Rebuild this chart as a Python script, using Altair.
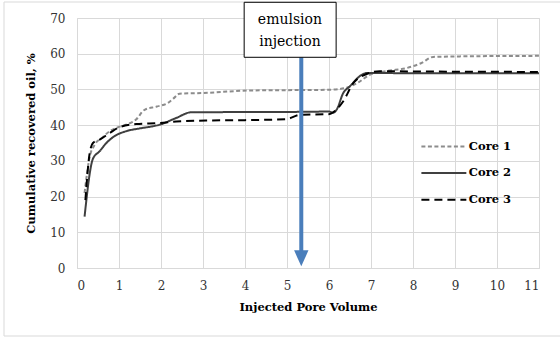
import altair as alt
import pandas as pd

# ---- data ----
core1_x = [0.18, 0.30, 0.42, 0.60, 0.78, 1.00, 1.21, 1.40, 1.61, 1.90, 2.16, 2.30, 2.44, 3.00, 4.10, 5.00, 6.00, 6.40, 6.70, 6.97, 7.40, 7.85, 8.20, 8.48, 9.50, 11.0]
core1_y = [21.0, 31.0, 34.5, 36.5, 38.3, 39.5, 40.3, 41.5, 44.3, 45.2, 46.2, 47.5, 48.8, 49.0, 49.7, 49.8, 49.9, 50.4, 52.0, 54.1, 55.2, 56.0, 57.4, 59.1, 59.3, 59.4]

core2_x = [0.18, 0.38, 0.54, 0.70, 0.89, 1.17, 1.50, 1.81, 1.96, 2.36, 2.72, 3.00, 4.00, 5.00, 6.00, 6.10, 6.18, 6.34, 6.50, 6.78, 6.90, 7.20, 8.00, 11.0]
core2_y = [14.4, 30.6, 32.7, 35.0, 36.9, 38.3, 39.1, 39.7, 40.1, 42.0, 43.6, 43.6, 43.7, 43.7, 43.8, 43.5, 44.3, 49.0, 50.9, 54.1, 54.6, 54.6, 54.5, 54.5]

core3_x = [0.20, 0.30, 0.38, 0.55, 0.78, 1.01, 1.41, 1.96, 2.36, 3.07, 4.00, 4.99, 5.31, 6.02, 6.10, 6.34, 6.58, 6.78, 7.21, 8.40, 11.0]
core3_y = [19.0, 32.0, 35.0, 36.0, 37.8, 39.4, 40.3, 40.6, 41.0, 41.3, 41.4, 41.7, 42.9, 43.1, 43.6, 46.7, 51.8, 53.7, 55.1, 55.0, 54.9]

series_names = ["Core 1", "Core 2", "Core 3"]
x_ticks = list(range(0, 12))
y_ticks = list(range(0, 80, 10))

injection_pv = 5.34
annotation_lines = ["emulsion", "injection"]

# ---- styles ----
colors = ["#8c8c8c", "#404040", "#000000"]
dashes = [[4, 2.5], [1, 0], [8, 5]]
widths = [2, 2, 2.5]
FONT = "DejaVu Serif"

rows = []
for name, xs, ys in zip(series_names, [core1_x, core2_x, core3_x], [core1_y, core2_y, core3_y]):
    for i, (a, b) in enumerate(zip(xs, ys)):
        rows.append({"series": name, "pv": a, "oil": b, "order": i})
df = pd.DataFrame(rows)

xscale = alt.Scale(domain=[0, 11], nice=False, zero=False)
yscale = alt.Scale(domain=[0, 70], nice=False)
cscale = alt.Scale(domain=series_names, range=colors)
dscale = alt.Scale(domain=series_names, range=dashes)
wscale = alt.Scale(domain=series_names, range=widths)

x_axis = alt.Axis(values=x_ticks, title="Injected Pore Volume", ticks=False, labelOverlap=False,
                  domainColor="#d9d9d9", gridColor="#d9d9d9", labelFont=FONT,
                  labelFontSize=12, labelColor="#333333", labelPadding=12,
                  titleFont=FONT, titleFontSize=11.5, titleFontWeight="bold",
                  titleColor="#000000", titlePadding=10)
y_axis = alt.Axis(values=y_ticks, title="Cumulative recovered oil, %", ticks=False, labelOverlap=False,
                  domain=False, gridColor="#d9d9d9", labelFont=FONT,
                  labelFontSize=12, labelColor="#333333", labelPadding=12,
                  titleFont=FONT, titleFontSize=11.5, titleFontWeight="bold",
                  titleColor="#000000", titlePadding=13)


def X(field):
    return alt.X(field, type="quantitative", scale=xscale, axis=x_axis)


def Y(field):
    return alt.Y(field, type="quantitative", scale=yscale, axis=y_axis)


lines = alt.Chart(df).mark_line(interpolate="monotone").encode(
    x=X("pv"), y=Y("oil"),
    color=alt.Color("series:N", scale=cscale, legend=None),
    strokeDash=alt.StrokeDash("series:N", scale=dscale, legend=None),
    strokeWidth=alt.StrokeWidth("series:N", scale=wscale, legend=None),
    order="order:Q",
)

frame = alt.Chart(pd.DataFrame({"a": [0]})).mark_rect(
    fill=None, stroke="#d9d9d9", strokeWidth=1
).encode(x=alt.value(-73), x2=alt.value(490), y=alt.value(-16), y2=alt.value(318))

leg = pd.DataFrame({"series": series_names, "x1": [8.2] * 3, "x2": [9.27] * 3,
                    "ly": [34.0, 26.6, 19.1], "tx": [9.33] * 3})
leg_lines = alt.Chart(leg).mark_rule().encode(
    x=X("x1"), x2="x2:Q", y=Y("ly"),
    color=alt.Color("series:N", scale=cscale, legend=None),
    strokeDash=alt.StrokeDash("series:N", scale=dscale, legend=None),
    strokeWidth=alt.StrokeWidth("series:N", scale=wscale, legend=None),
)
leg_text = alt.Chart(leg).mark_text(align="left", baseline="middle", font=FONT,
                                    fontSize=11.5, fontWeight="bold", color="#000000").encode(
    x=X("tx"), y=Y("ly"), text="series:N")

arrow_df = pd.DataFrame({"x": [injection_pv], "y1": [59.0], "y2": [4.3], "ty": [2.7]})
arrow_shaft = alt.Chart(arrow_df).mark_rule(color="#4a7ebb", strokeWidth=4).encode(
    x=X("x"), y=Y("y1"), y2="y2:Q")
arrow_head = alt.Chart(arrow_df).mark_point(
    shape="M-0.9,-1 L0.9,-1 L0,1 Z", filled=True, color="#4a7ebb", opacity=1, size=256
).encode(x=X("x"), y=Y("ty"))

box_df = pd.DataFrame({"x1": [3.98], "x2": [6.17], "y1": [74.4], "y2": [59.0]})
box = alt.Chart(box_df).mark_rect(fill="#ffffff", stroke="#000000", strokeWidth=1).encode(
    x=X("x1"), x2="x2:Q", y=Y("y1"), y2="y2:Q")
ann_df = pd.DataFrame({"x": [5.07, 5.07], "y": [69.4, 63.3], "t": annotation_lines})
ann = alt.Chart(ann_df).mark_text(font=FONT, fontSize=14, color="#000000",
                                   align="center", baseline="middle").encode(
    x=X("x"), y=Y("y"), text="t:N")

chart = alt.layer(lines, frame, leg_lines, leg_text, arrow_shaft, arrow_head, box, ann).properties(
    width=462, height=250,
    autosize=alt.AutoSizeParams(type="none"),
    padding={"left": 77, "top": 18, "right": 21, "bottom": 69},
).configure_view(stroke=None).configure(background="#ffffff")

chart.save("out.html", embed_options={"renderer": "svg", "actions": False})
